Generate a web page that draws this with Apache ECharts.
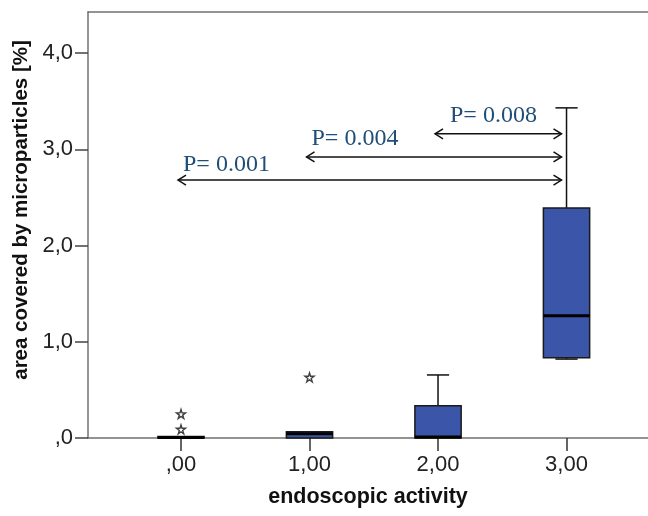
<!DOCTYPE html>
<html>
<head>
<meta charset="utf-8">
<script src="https://cdn.jsdelivr.net/npm/echarts@6/dist/echarts.min.js"></script>
<style>
html,body{margin:0;padding:0;background:#fff;}
#chart{width:648px;height:516px;}
</style>
</head>
<body>
<div id="chart"></div>
<script>
// ---- data ----
const categoryValues = [0, 1, 2, 3];
const xTickLabels = [',00', '1,00', '2,00', '3,00'];
const yTickValues = [0, 1, 2, 3, 4];
const yTickLabels = [',0', '1,0', '2,0', '3,0', '4,0'];
const whiskerLow = [0, 0, 0, 0.82];
const quartile1 = [0, 0, 0, 0.835];
const medians = [0.005, 0.045, 0.01, 1.27];
const quartile3 = [0.015, 0.065, 0.335, 2.39];
const whiskerHigh = [0.02, 0.065, 0.655, 3.43];
const outlierX = [0, 0, 1];
const outlierY = [0.09, 0.25, 0.63];
const compareFrom = [0, 1, 2];
const compareTo = [3, 3, 3];
const compareLevel = [2.68, 2.92, 3.16];
const compareLabels = ['P= 0.001', 'P= 0.004', 'P= 0.008'];

// ---- styles ----
const labelShiftX = [5, 5, 15];
const labelLift = [3, 6, 6];
const boxFill = '#3b56a8';
const annColor = '#1f4e79';
const sans = '"Liberation Sans", Arial, sans-serif';

const boxData = categoryValues.map((c, i) => [c, whiskerLow[i], quartile1[i], medians[i], quartile3[i], whiskerHigh[i]]);
const outlierData = outlierX.map((x, i) => [x, outlierY[i]]);
const compData = compareFrom.map((f, i) => [f, compareTo[i], compareLevel[i], i]);

function renderBox(params, api) {
  const x = api.value(0);
  const lo = api.coord([x, api.value(1)]);
  const b1 = api.coord([x, api.value(2)]);
  const md = api.coord([x, api.value(3)]);
  const b3 = api.coord([x, api.value(4)]);
  const hi = api.coord([x, api.value(5)]);
  const bw = api.size([1, 0])[0] * 0.36;
  const cw = bw * 0.48;
  const cx = lo[0];
  const ch = [];
  const lineStyle = {stroke: '#111', lineWidth: 1.5, fill: null};
  if (b3[1] - hi[1] > 0.5) {
    ch.push({type: 'line', shape: {x1: cx, y1: b3[1], x2: cx, y2: hi[1]}, style: lineStyle});
    ch.push({type: 'line', shape: {x1: cx - cw / 2, y1: hi[1], x2: cx + cw / 2, y2: hi[1]}, style: lineStyle});
  }
  if (lo[1] - b1[1] > 0.5) {
    ch.push({type: 'line', shape: {x1: cx, y1: b1[1], x2: cx, y2: lo[1]}, style: lineStyle});
    ch.push({type: 'line', shape: {x1: cx - cw / 2, y1: lo[1], x2: cx + cw / 2, y2: lo[1]}, style: lineStyle});
  }
  ch.push({type: 'rect', shape: {x: cx - bw / 2, y: b3[1], width: bw, height: Math.max(b1[1] - b3[1], 1)},
    style: {fill: boxFill, stroke: '#1a1a1a', lineWidth: 1.5}});
  ch.push({type: 'line', shape: {x1: cx - bw / 2, y1: md[1], x2: cx + bw / 2, y2: md[1]},
    style: {stroke: '#000', lineWidth: 3}});
  return {type: 'group', children: ch};
}

function renderCompare(params, api) {
  const i = api.value(3);
  const p0 = api.coord([api.value(0), api.value(2)]);
  const p1 = api.coord([api.value(1), api.value(2)]);
  const y = p0[1];
  const x0 = p0[0] - 3;
  const x1 = p1[0] - 5;
  const st = {stroke: '#111', lineWidth: 1.5, fill: null};
  return {type: 'group', children: [
    {type: 'line', shape: {x1: x0, y1: y, x2: x1, y2: y}, style: st},
    {type: 'polyline', shape: {points: [[x0 + 8, y - 5], [x0, y], [x0 + 8, y + 5]]}, style: st},
    {type: 'polyline', shape: {points: [[x1 - 8, y - 5], [x1, y], [x1 - 8, y + 5]]}, style: st},
    {type: 'text', style: {text: compareLabels[i], x: x0 + labelShiftX[i], y: y - labelLift[i],
      fill: annColor, fontSize: 24, fontFamily: '"Liberation Serif", serif', align: 'left', verticalAlign: 'bottom'}}
  ]};
}

const chart = echarts.init(document.getElementById('chart'), null, {renderer: 'canvas'});
chart.setOption({
  animation: false,
  backgroundColor: '#fff',
  grid: {left: 88, right: 0, top: 12, bottom: 78, containLabel: false},
  xAxis: [{
    type: 'value', min: -0.7237, max: 3.634, position: 'bottom',
    name: 'endoscopic activity', nameLocation: 'middle', nameGap: 48,
    nameTextStyle: {fontFamily: sans, fontWeight: 'bold', fontSize: 21.5, color: '#111'},
    axisLine: {show: true, lineStyle: {color: '#707070', width: 1.5}},
    axisTick: {show: true, length: 13, customValues: categoryValues, lineStyle: {color: '#333', width: 1.5}},
    axisLabel: {show: true, customValues: categoryValues, margin: 16,
      formatter: v => xTickLabels[categoryValues.indexOf(v)],
      fontFamily: sans, fontSize: 22, color: '#222'},
    splitLine: {show: false}
  }, {
    type: 'value', min: -0.7237, max: 3.634, position: 'top',
    axisLine: {show: true, lineStyle: {color: '#707070', width: 1.5}},
    axisTick: {show: false}, axisLabel: {show: false}, splitLine: {show: false}
  }],
  yAxis: {
    type: 'value', min: 0, max: 4.426,
    name: 'area covered by microparticles [%]', nameLocation: 'middle', nameGap: 54,
    nameTextStyle: {fontFamily: sans, fontWeight: 'bold', fontSize: 20.5, color: '#111',
      padding: [0, 0, 0, 30]},
    axisLine: {show: true, onZero: false, lineStyle: {color: '#707070', width: 1.5}},
    axisTick: {show: true, length: 13, customValues: yTickValues, lineStyle: {color: '#444', width: 1.5}},
    axisLabel: {show: true, customValues: yTickValues, margin: 15,
      formatter: v => yTickLabels[yTickValues.indexOf(v)],
      fontFamily: sans, fontSize: 22, color: '#222'},
    splitLine: {show: false}
  },
  series: [{
    type: 'custom', name: 'box', renderItem: renderBox, data: boxData,
    encode: {x: 0, y: [1, 2, 3, 4, 5]}, z: 3
  }, {
    type: 'scatter', name: 'outliers', data: outlierData,
    symbol: 'path://M50,0 L61,35 L98,35 L68,57 L79,91 L50,70 L21,91 L32,57 L2,35 L39,35 Z',
    symbolSize: 9, itemStyle: {color: '#fff', borderColor: '#111', borderWidth: 1.4}, z: 4
  }, {
    type: 'custom', name: 'comparisons', renderItem: renderCompare, data: compData,
    encode: {x: [0, 1], y: 2}, z: 5
  }]
});
</script>
</body>
</html>
